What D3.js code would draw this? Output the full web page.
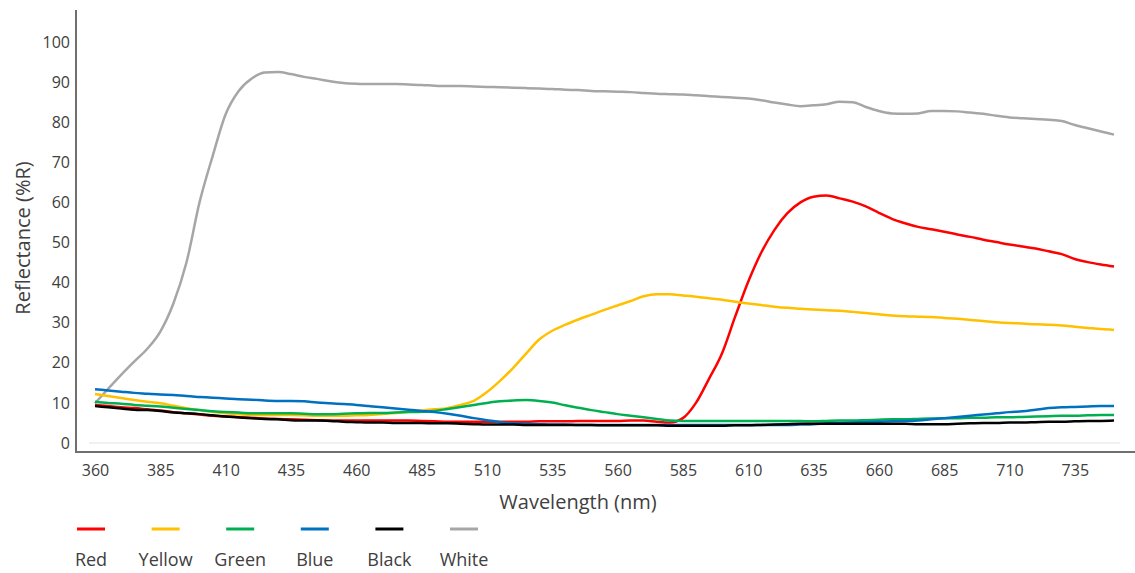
<!DOCTYPE html>
<html>
<head>
<meta charset="utf-8">
<script src="https://cdn.jsdelivr.net/npm/d3@7"></script>
<style>
  body { margin: 0; background: #fff; }
  svg text { font-family: "Open Sans", "Noto Sans", sans-serif; fill: #404040; }
</style>
</head>
<body>
<svg id="chart" width="1135" height="573"></svg>
<script>
// wavelengths, 5 nm steps
const wavelengths = d3.range(360, 751, 5);

const xTicks = [360, 385, 410, 435, 460, 485, 510, 535, 560, 585, 610, 635, 660, 685, 710, 735];
const yTicks = [0, 10, 20, 30, 40, 50, 60, 70, 80, 90, 100];

const seriesNames = ["Red", "Yellow", "Green", "Blue", "Black", "White"];
const seriesColors = ["#ff0000", "#ffc000", "#00b050", "#0070c0", "#000000", "#a6a6a6"];

const red = [9.5, 9.2, 8.9, 8.7, 8.4, 8.1, 7.7, 7.4, 7.1, 6.8,
  6.6, 6.4, 6.3, 6.1, 6.0, 5.9, 5.8, 5.7, 5.6, 5.6,
  5.6, 5.6, 5.6, 5.6, 5.6, 5.5, 5.4, 5.3, 5.3, 5.3,
  5.3, 5.3, 5.3, 5.3, 5.4, 5.4, 5.4, 5.5, 5.5, 5.5,
  5.5, 5.6, 5.6, 5.3, 5.1, 6.2, 10.0, 16.0, 22.4, 31.5,
  40.2, 47.5, 53.1, 57.3, 60.0, 61.4, 61.7, 61.0, 60.2, 59.0,
  57.4, 55.9, 54.8, 53.9, 53.3, 52.7, 52.0, 51.4, 50.7, 50.1,
  49.5, 49.0, 48.5, 47.8, 47.1, 45.9, 45.1, 44.5, 44.0];

const yellow = [12.2, 11.7, 11.2, 10.7, 10.3, 9.9, 9.3, 8.7, 8.2, 7.8,
  7.4, 7.2, 7.0, 7.0, 7.0, 7.0, 6.9, 6.8, 6.8, 6.8,
  6.9, 7.0, 7.2, 7.5, 7.8, 8.1, 8.4, 8.7, 9.5, 10.5,
  12.7, 15.5, 18.7, 22.3, 25.8, 28.0, 29.5, 30.8, 32.0, 33.2,
  34.3, 35.4, 36.6, 37.1, 37.1, 36.8, 36.5, 36.1, 35.7, 35.2,
  34.8, 34.4, 34.0, 33.7, 33.5, 33.3, 33.1, 33.0, 32.7, 32.4,
  32.1, 31.8, 31.6, 31.5, 31.4, 31.2, 31.0, 30.7, 30.4, 30.1,
  29.9, 29.8, 29.6, 29.5, 29.3, 29.0, 28.7, 28.4, 28.2];

const green = [10.3, 10.0, 9.8, 9.5, 9.3, 9.1, 8.8, 8.5, 8.2, 7.9,
  7.7, 7.6, 7.4, 7.4, 7.4, 7.4, 7.3, 7.2, 7.2, 7.3,
  7.4, 7.5, 7.5, 7.6, 7.7, 7.8, 8.0, 8.5, 9.0, 9.5,
  10.0, 10.4, 10.6, 10.7, 10.5, 10.1, 9.4, 8.8, 8.2, 7.7,
  7.2, 6.8, 6.4, 6.0, 5.6, 5.5, 5.5, 5.5, 5.5, 5.5,
  5.5, 5.5, 5.5, 5.5, 5.5, 5.4, 5.5, 5.6, 5.6, 5.7,
  5.8, 5.9, 5.9, 6.0, 6.1, 6.2, 6.2, 6.3, 6.3, 6.4,
  6.4, 6.5, 6.6, 6.7, 6.8, 6.8, 6.9, 7.0, 7.0];

const blue = [13.4, 13.1, 12.8, 12.5, 12.3, 12.1, 12.0, 11.7, 11.5, 11.3,
  11.1, 10.9, 10.8, 10.6, 10.5, 10.5, 10.4, 10.1, 9.9, 9.7,
  9.5, 9.2, 8.9, 8.6, 8.3, 8.0, 7.7, 7.3, 6.8, 6.2,
  5.7, 5.2, 4.9, 4.8, 4.7, 4.6, 4.6, 4.5, 4.5, 4.5,
  4.5, 4.5, 4.5, 4.5, 4.5, 4.5, 4.5, 4.5, 4.5, 4.5,
  4.5, 4.5, 4.5, 4.5, 4.6, 4.7, 4.9, 5.0, 5.1, 5.2,
  5.3, 5.4, 5.5, 5.6, 5.9, 6.2, 6.5, 6.8, 7.1, 7.4,
  7.7, 7.9, 8.3, 8.7, 8.9, 9.0, 9.1, 9.2, 9.2];

const black = [9.2, 8.9, 8.6, 8.3, 8.2, 8.0, 7.6, 7.4, 7.2, 6.9,
  6.6, 6.4, 6.2, 6.0, 5.9, 5.7, 5.6, 5.6, 5.5, 5.3,
  5.2, 5.1, 5.1, 5.0, 5.0, 5.0, 4.9, 4.9, 4.8, 4.7,
  4.6, 4.6, 4.6, 4.5, 4.5, 4.5, 4.5, 4.5, 4.5, 4.4,
  4.4, 4.4, 4.4, 4.4, 4.3, 4.3, 4.3, 4.3, 4.3, 4.4,
  4.4, 4.5, 4.6, 4.7, 4.8, 4.8, 4.8, 4.8, 4.8, 4.8,
  4.8, 4.8, 4.8, 4.7, 4.7, 4.7, 4.8, 4.9, 5.0, 5.0,
  5.1, 5.1, 5.2, 5.3, 5.3, 5.4, 5.5, 5.5, 5.6];

const white = [9.9, 13.5, 17.0, 20.3, 23.5, 27.8, 34.8, 45.0, 60.0, 71.5,
  82.0, 87.8, 90.9, 92.4, 92.5, 92.0, 91.3, 90.8, 90.2, 89.8,
  89.6, 89.5, 89.5, 89.5, 89.4, 89.3, 89.1, 89.0, 89.0, 88.9,
  88.8, 88.7, 88.6, 88.5, 88.4, 88.3, 88.1, 88.0, 87.8, 87.7,
  87.6, 87.5, 87.3, 87.1, 87.0, 86.9, 86.7, 86.5, 86.3, 86.1,
  85.9, 85.5, 84.9, 84.4, 84.0, 84.2, 84.5, 85.1, 85.0, 83.8,
  82.8, 82.2, 82.1, 82.2, 82.8, 82.8, 82.7, 82.4, 82.1, 81.6,
  81.2, 81.0, 80.8, 80.6, 80.3, 79.3, 78.5, 77.7, 76.9];

const seriesValues = [red, yellow, green, blue, black, white];

const svg = d3.select("#chart");

const x = d3.scaleLinear().domain([360, 750]).range([95, 1114]);
const y = d3.scaleLinear().domain([0, 100]).range([443, 42]);

// zero gridline
svg.append("line")
  .attr("x1", 89).attr("x2", 1120)
  .attr("y1", y(0)).attr("y2", y(0))
  .attr("stroke", "#e3e3e3").attr("stroke-width", 1);

// axes lines
svg.append("line")
  .attr("x1", 76).attr("x2", 76).attr("y1", 10).attr("y2", 453)
  .attr("stroke", "#6f6f6f").attr("stroke-width", 2);
svg.append("line")
  .attr("x1", 75).attr("x2", 1135).attr("y1", 452).attr("y2", 452)
  .attr("stroke", "#6f6f6f").attr("stroke-width", 2);

const yAxis = svg.append("g")
  .attr("transform", "translate(76,0)")
  .call(d3.axisLeft(y).tickValues(yTicks).tickSize(0).tickPadding(6));
yAxis.select(".domain").remove();
yAxis.selectAll("text").style("font-size", "16px").attr("fill", "#404040");

const xAxis = svg.append("g")
  .attr("transform", "translate(0,452)")
  .call(d3.axisBottom(x).tickValues(xTicks).tickSize(0).tickPadding(13));
xAxis.select(".domain").remove();
xAxis.selectAll("text").style("font-size", "16px").attr("fill", "#404040");

// axis titles
svg.append("text")
  .attr("transform", "translate(30,238) rotate(-90)")
  .attr("text-anchor", "middle")
  .style("font-size", "20px")
  .text("Reflectance (%R)");

svg.append("text")
  .attr("x", 578).attr("y", 509)
  .attr("text-anchor", "middle")
  .style("font-size", "20px")
  .text("Wavelength (nm)");

// lines
const line = d3.line()
  .x((d, i) => x(wavelengths[i]))
  .y(d => y(d))
  .curve(d3.curveMonotoneX);

// draw white first so coloured curves sit on top like the original
const drawOrder = [5, 0, 1, 2, 3, 4];
svg.append("g").selectAll("path")
  .data(drawOrder)
  .join("path")
  .attr("d", k => line(seriesValues[k]))
  .attr("fill", "none")
  .attr("stroke", k => seriesColors[k])
  .attr("stroke-width", 2.5)
  .attr("stroke-linejoin", "round");

// legend
const legend = svg.append("g").selectAll("g")
  .data(seriesNames)
  .join("g")
  .attr("transform", (d, i) => `translate(${91 + i * 74.6},0)`);

legend.append("line")
  .attr("x1", -14).attr("x2", 14)
  .attr("y1", 529).attr("y2", 529)
  .attr("stroke", (d, i) => seriesColors[i])
  .attr("stroke-width", 3);

legend.append("text")
  .attr("y", 566)
  .attr("text-anchor", "middle")
  .style("font-size", "18px")
  .text(d => d);
</script>
</body>
</html>
